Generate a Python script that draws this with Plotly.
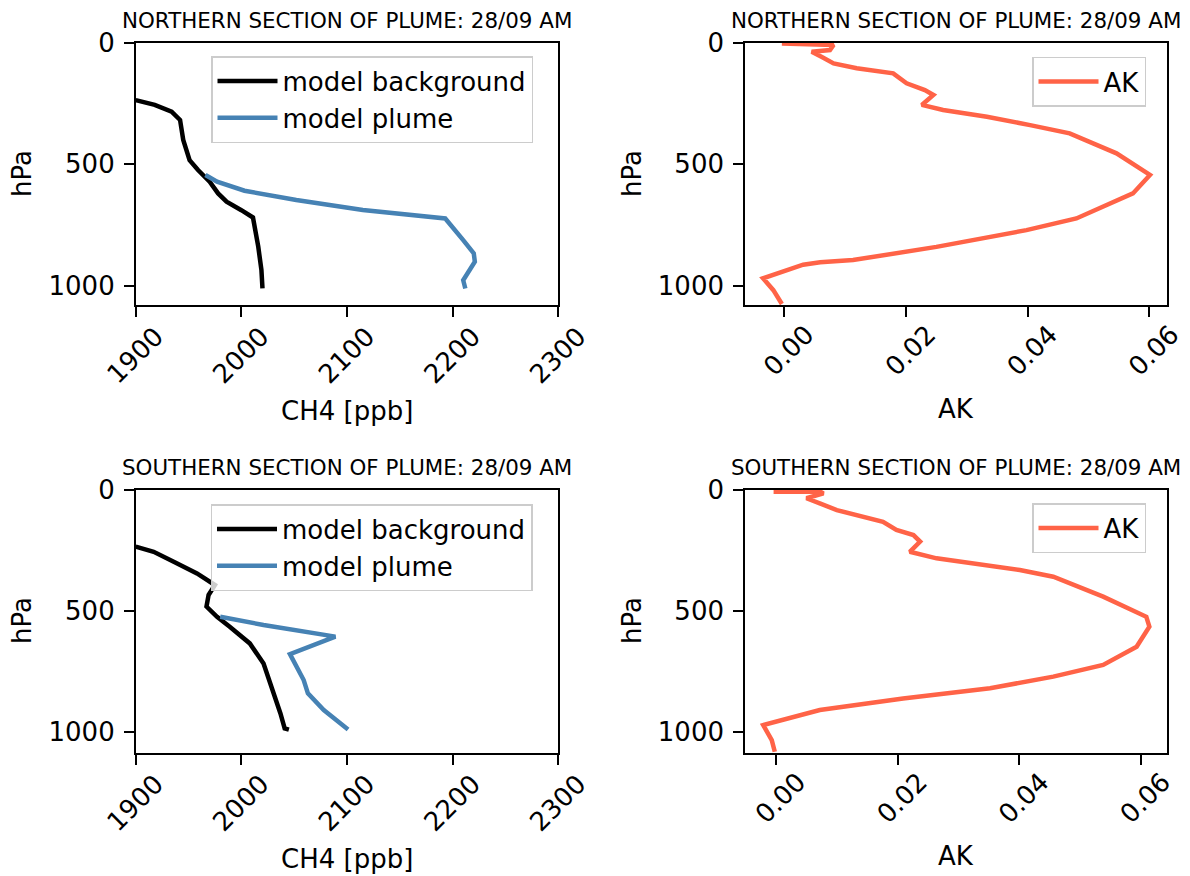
import plotly.graph_objects as go

# ---------------- data ----------------
# Northern section
north_bg_ch4 = [1900, 1918, 1934, 1942, 1945, 1951, 1959, 1970, 1978, 1986, 2000, 2011, 2016, 2019, 2020]
north_bg_p = [236, 256, 284, 318, 400, 483, 524, 572, 620, 654, 689, 719, 839, 935, 1011]
north_pl_ch4 = [1966, 1977, 2003, 2052, 2115, 2193, 2210, 2220, 2221, 2213, 2210, 2212]
north_pl_p = [544, 572, 609, 647, 688, 723, 812, 867, 901, 956, 977, 1011]
north_ak = [-0.0004, 0.0081, 0.0075, 0.0045, 0.0061, 0.0081, 0.0119, 0.0179, 0.0201, 0.0231, 0.0245,
            0.0226, 0.0261, 0.0333, 0.0404, 0.0469, 0.0546, 0.0601, 0.0573, 0.0480, 0.0398, 0.0250,
            0.0113, 0.0059, 0.0031, -0.0035, -0.0018, -0.0004]
north_ak_p = [3, 9, 30, 37, 58, 85, 105, 126, 167, 195, 215, 256, 277, 305, 339, 373, 455, 544, 620,
              723, 771, 840, 894, 903, 913, 969, 1018, 1075]

# Southern section
south_bg_ch4 = [1900, 1917, 1936, 1958, 1975, 1969, 1967, 1977, 1989, 2008, 2021, 2030, 2037, 2041, 2045]
south_bg_p = [234, 255, 296, 344, 392, 433, 481, 523, 564, 633, 716, 826, 922, 984, 989]
south_pl_ch4 = [1980, 2021, 2089, 2046, 2059, 2063, 2078, 2101]
south_pl_p = [523, 557, 605, 677, 784, 839, 908, 988]
south_ak = [-0.0004, 0.0073, 0.0078, 0.0050, 0.0072, 0.0100, 0.0176, 0.0198, 0.0226, 0.0237, 0.0220,
            0.0264, 0.0401, 0.0456, 0.0538, 0.0609, 0.0614, 0.0593, 0.0538, 0.0456, 0.0352, 0.0209,
            0.0072, -0.0021, -0.0007, -0.0002]
south_ak_p = [7, 7, 14, 34, 55, 83, 131, 165, 186, 213, 255, 282, 330, 358, 440, 523, 564, 647, 722,
              770, 818, 860, 908, 970, 1032, 1080]

ch4_ticks = [1900, 2000, 2100, 2200, 2300]
ak_ticks = [0.00, 0.02, 0.04, 0.06]
p_ticks = [0, 500, 1000]

title_north = "NORTHERN SECTION OF PLUME: 28/09 AM"
title_south = "SOUTHERN SECTION OF PLUME: 28/09 AM"

# ---------------- styling ----------------
OFF = 8  # page body margin
W, H = 1190 - OFF, 876 - OFF
FONT = "DejaVu Sans"
BLACK = "#000000"
BLUE = "#4682b4"
TOMATO = "#ff6347"
LW = 4.5

def px_x(v):
    return (v - OFF) / W

def px_y(v):
    return 1 - (v - OFF) / H

dom_left = [px_x(135.7), px_x(558.3)]
dom_right = [px_x(745), px_x(1167)]
dom_top = [px_y(305), px_y(42.7)]
dom_bot = [px_y(752.7), px_y(490)]

fig = go.Figure()

def add(x, y, name, color, xa, ya, legend):
    fig.add_trace(go.Scatter(x=x, y=y, mode="lines", name=name,
                             line=dict(color=color, width=LW, shape="linear"),
                             xaxis=xa, yaxis=ya, legend=legend, cliponaxis=True))

add(north_bg_ch4, north_bg_p, "model background", BLACK, "x", "y", "legend")
add(north_pl_ch4, north_pl_p, "model plume", BLUE, "x", "y", "legend")
add(north_ak, north_ak_p, "AK", TOMATO, "x2", "y2", "legend2")
add(south_bg_ch4, south_bg_p, "model background", BLACK, "x3", "y3", "legend3")
add(south_pl_ch4, south_pl_p, "model plume", BLUE, "x3", "y3", "legend3")
add(south_ak, south_ak_p, "AK", TOMATO, "x4", "y4", "legend4")

axis_common = dict(showline=True, linecolor=BLACK, linewidth=1.6, mirror=True,
                   ticks="outside", ticklen=10, tickwidth=1.6, tickcolor=BLACK,
                   showgrid=False, zeroline=False, automargin=False,
                   ticklabeloverflow="allow",
                   tickfont=dict(family=FONT, size=26, color=BLACK))

xch4 = dict(axis_common, range=[1900, 2300], tickvals=ch4_ticks, tickangle=-45,
            ticklabelshift=20, ticklabelstandoff=-6)
xak = dict(axis_common, tickvals=ak_ticks, tickformat=".2f", tickangle=-45,
           ticklabelshift=22, ticklabelstandoff=-8)
yp = dict(axis_common, tickvals=p_ticks, ticklabelstandoff=4)

fig.update_layout(
    template="none",
    width=W, height=H, margin=dict(l=0, r=0, t=0, b=0, autoexpand=False),
    paper_bgcolor="white", plot_bgcolor="white",
    font=dict(family=FONT, color=BLACK),
    xaxis=dict(xch4, domain=dom_left, anchor="y"),
    yaxis=dict(yp, domain=dom_top, anchor="x", range=[1079, 0]),
    xaxis2=dict(xak, domain=dom_right, anchor="y2", range=[-0.00646, 0.0629]),
    yaxis2=dict(yp, domain=dom_top, anchor="x2", range=[1079, 0]),
    xaxis3=dict(xch4, domain=dom_left, anchor="y3"),
    yaxis3=dict(yp, domain=dom_bot, anchor="x3", range=[1084, 0]),
    xaxis4=dict(xak, domain=dom_right, anchor="y4", range=[-0.0051, 0.0643]),
    yaxis4=dict(yp, domain=dom_bot, anchor="x4", range=[1084, 0]),
)

leg_common = dict(bgcolor="rgba(255,255,255,0.8)", bordercolor="#cccccc", borderwidth=1.5,
                  font=dict(family=FONT, size=26, color=BLACK), xanchor="center", yanchor="top",
                  itemwidth=60, tracegroupgap=0)
fig.update_layout(
    legend=dict(leg_common, x=px_x(372), y=px_y(56)),
    legend2=dict(leg_common, x=px_x(1089), y=px_y(56.7)),
    legend3=dict(leg_common, x=px_x(371.5), y=px_y(504)),
    legend4=dict(leg_common, x=px_x(1089), y=px_y(503)),
)

annotations = []
def text(x, y, s, size, angle=0):
    annotations.append(dict(x=px_x(x), y=px_y(y), xref="paper", yref="paper", text=s,
                            showarrow=False, textangle=angle, xanchor="center", yanchor="middle",
                            font=dict(family=FONT, size=size, color=BLACK)))

text(347, 20, title_north, 21.4)
text(956, 20, title_north, 21.4)
text(347, 467.5, title_south, 21.4)
text(956, 467.5, title_south, 21.4)
text(22, 174, "hPa", 26, -90)
text(632, 174, "hPa", 26, -90)
text(22, 621, "hPa", 26, -90)
text(632, 621, "hPa", 26, -90)
text(347, 411, "CH4 [ppb]", 26)
text(956, 409, "AK", 26)
text(347, 859, "CH4 [ppb]", 26)
text(956, 856, "AK", 26)
fig.update_layout(annotations=annotations)

fig.write_html("out.html")
